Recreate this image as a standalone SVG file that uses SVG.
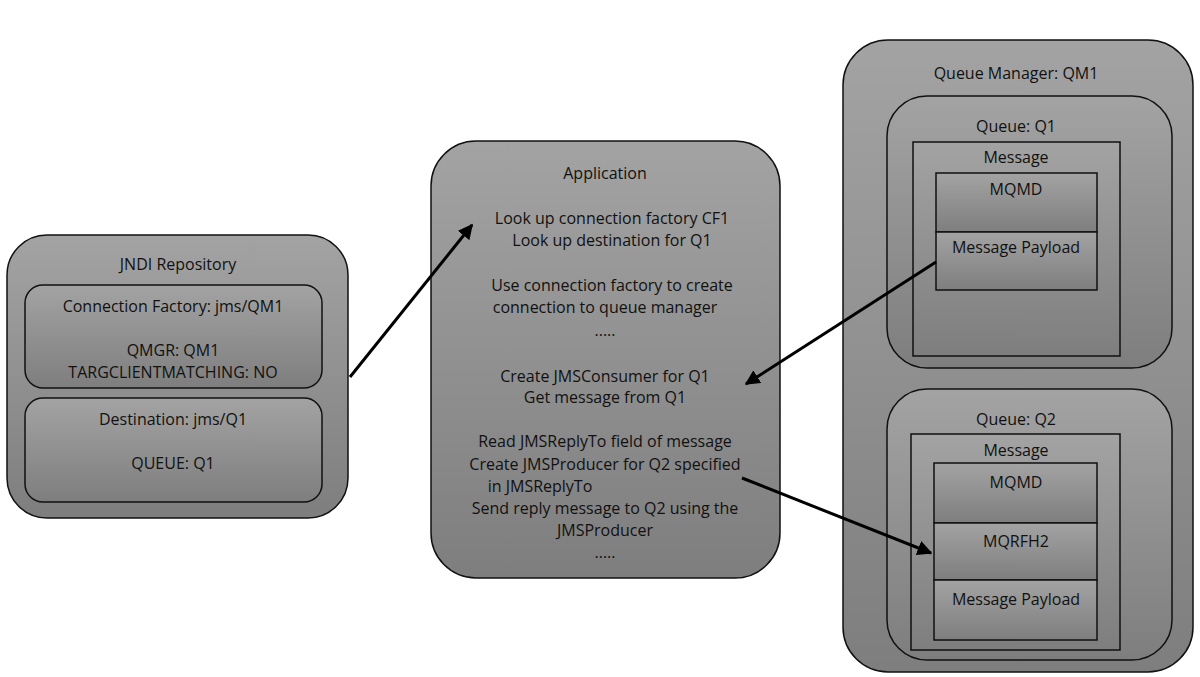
<svg xmlns="http://www.w3.org/2000/svg" width="1200" height="677" viewBox="0 0 1200 677">
<defs>
<linearGradient id="g" x1="0" y1="0" x2="0" y2="1"><stop offset="0" stop-color="#a3a3a3"/><stop offset="1" stop-color="#7e7e7e"/></linearGradient>
<marker id="ah" viewBox="0 0 10 10" refX="9" refY="5" markerWidth="5" markerHeight="5" orient="auto"><path d="M0,0 L10,5 L0,10 z" fill="#000"/></marker>
</defs>
<style>
.s{fill:url(#g);stroke:#111;stroke-width:1.5}
text{font-family:"Open Sans","Liberation Sans",sans-serif;font-size:16px;fill:#111;text-anchor:middle}
.c{stroke:#000;stroke-width:3;fill:none;marker-end:url(#ah)}
</style>
<rect width="1200" height="677" fill="#fff"/>
<g id="jndi">
<rect class="s" x="7" y="235" width="341" height="283" rx="40"/>
<text x="178" y="270">JNDI Repository</text>
</g>
<g id="cf">
<rect class="s" x="25" y="285" width="297" height="103" rx="18"/>
<text x="173" y="312">Connection Factory: jms/QM1</text>
<text x="173" y="356">QMGR: QM1</text>
<text x="173" y="378">TARGCLIENTMATCHING: NO</text>
</g>
<g id="dest">
<rect class="s" x="25" y="398" width="297" height="104" rx="18"/>
<text x="173" y="425">Destination: jms/Q1</text>
<text x="173" y="469">QUEUE: Q1</text>
</g>
<g id="app">
<rect class="s" x="431" y="141" width="349" height="437" rx="45"/>
<text x="605" y="179">Application</text>
<text x="612" y="224">Look up connection factory CF1</text>
<text x="612" y="246">Look up destination for Q1</text>
<text x="612" y="291">Use connection factory to create</text>
<text x="605" y="313">connection to queue manager</text>
<text x="605" y="336">.....</text>
<text x="605" y="382">Create JMSConsumer for Q1</text>
<text x="605" y="403">Get message from Q1</text>
<text x="605" y="447">Read JMSReplyTo field of message</text>
<text x="605" y="470">Create JMSProducer for Q2 specified</text>
<text x="540" y="492">in JMSReplyTo</text>
<text x="605" y="514">Send reply message to Q2 using the</text>
<text x="605" y="536">JMSProducer</text>
<text x="605" y="558">.....</text>
</g>
<g id="qm1">
<rect class="s" x="843" y="40" width="350" height="632" rx="45"/>
<text x="1016" y="79">Queue Manager: QM1</text>
</g>
<g id="q1">
<rect class="s" x="887" y="96" width="285" height="272" rx="40"/>
<text x="1016" y="132">Queue: Q1</text>
<rect class="s" x="913" y="142" width="207" height="214" rx="0"/>
<text x="1016" y="163">Message</text>
<rect class="s" x="936" y="173" width="161" height="59"/>
<text x="1016" y="195">MQMD</text>
<rect class="s" x="936" y="232" width="161" height="58"/>
<text x="1016" y="253">Message Payload</text>
</g>
<g id="q2">
<rect class="s" x="887" y="389" width="285" height="271" rx="40"/>
<text x="1016" y="425">Queue: Q2</text>
<rect class="s" x="911" y="434" width="209" height="216"/>
<text x="1016" y="456">Message</text>
<rect class="s" x="934" y="463" width="163" height="60"/>
<text x="1016" y="488">MQMD</text>
<rect class="s" x="934" y="523" width="163" height="57"/>
<text x="1016" y="547">MQRFH2</text>
<rect class="s" x="934" y="580" width="163" height="60"/>
<text x="1016" y="605">Message Payload</text>
</g>
<g id="connectors">
<line class="c" x1="350" y1="377" x2="472" y2="225"/>
<line class="c" x1="936" y1="262" x2="746" y2="384"/>
<line class="c" x1="742" y1="478" x2="931" y2="553"/>
</g>
</svg>
